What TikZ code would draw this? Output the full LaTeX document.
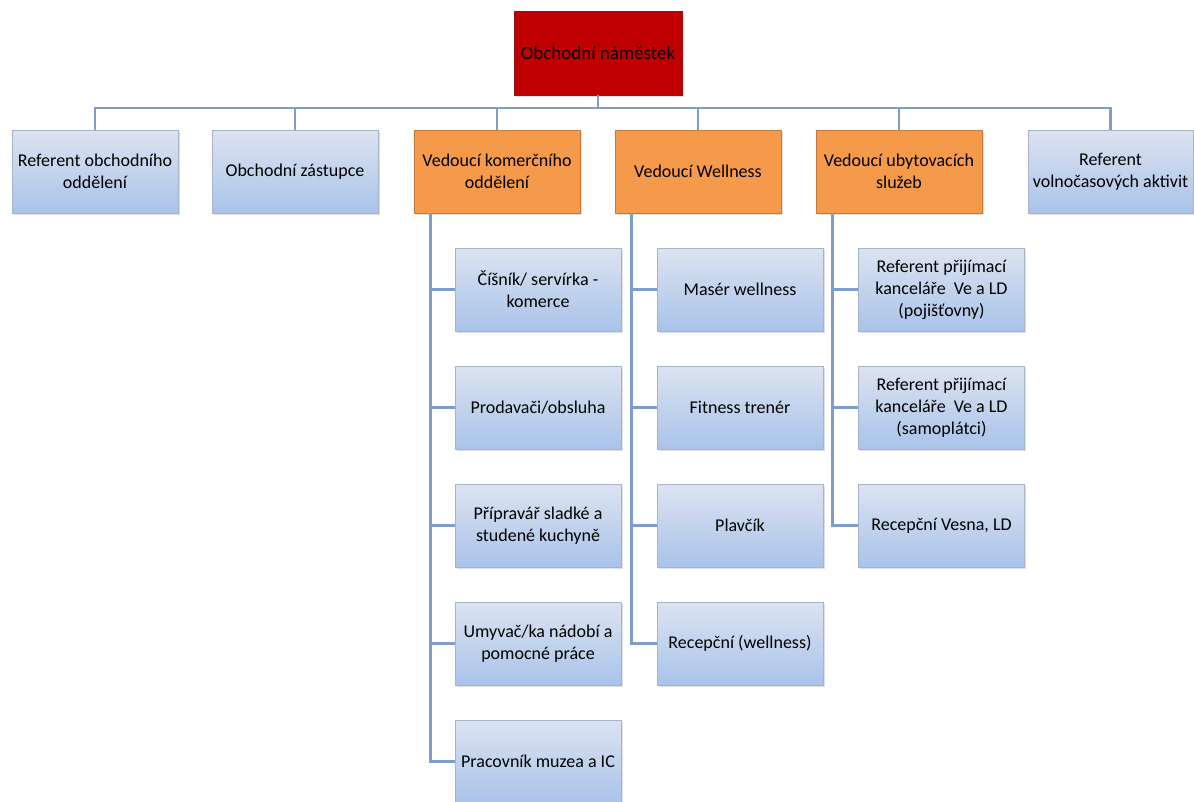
\documentclass[tikz,border=0pt]{standalone}
\usepackage{fontspec}
\setmainfont{Carlito}
\usetikzlibrary{shadows}
\definecolor{conn}{HTML}{7F9DCB}
\definecolor{btop}{HTML}{DCE3F0}
\definecolor{bbot}{HTML}{A9C3EA}
\definecolor{bborder}{HTML}{A6B3C8}
\definecolor{orfill}{HTML}{F59A4A}
\definecolor{orborder}{HTML}{C8763A}
\definecolor{redfill}{HTML}{C00000}
\definecolor{redborder}{HTML}{9A1010}
\tikzset{
  every node/.style={font=\fontsize{18}{22}\selectfont, align=center, inner sep=2pt},
  box/.style={rectangle, minimum width=166pt, minimum height=83pt, line width=0.8pt,
    drop shadow={opacity=0.25, shadow xshift=1.5pt, shadow yshift=-1.5pt}},
  bluebox/.style={box, draw=bborder, top color=btop, bottom color=bbot},
  orbox/.style={box, draw=orborder, fill=orfill},
  redbox/.style={box, draw=redborder, fill=redfill, minimum width=168pt, minimum height=84pt},
  cn/.style={draw=conn, line width=2.8pt}
}
\begin{document}
\begin{tikzpicture}[x=1pt,y=-1pt]
\useasboundingbox (0,0) rectangle (1194,801);
\node[redbox, font=\fontsize{19}{23}\selectfont] (top) at (598,53) {Obchodní náměstek};
% level 1
\node[bluebox] (b1) at (95,171.5) {Referent obchodního\\oddělení};
\node[bluebox] (b2) at (295,171.5) {Obchodní zástupce};
\node[orbox] (b3) at (497,171.5) {Vedoucí komerčního\\oddělení};
\node[orbox] (b4) at (698,171.5) {Vedoucí Wellness};
\node[orbox] (b5) at (899,171.5) {Vedoucí ubytovacích\\služeb};
\node[bluebox, minimum width=165pt] (b6) at (1110.5,171.5) {Referent\\volnočasových aktivit};
% children of b3
\node[bluebox] (c31) at (538,289.5) {Číšník/ servírka -\\komerce};
\node[bluebox] (c32) at (538,407.5) {Prodavači/obsluha};
\node[bluebox] (c33) at (538,525.5) {Přípravář sladké a\\studené kuchyně};
\node[bluebox] (c34) at (538,643.5) {Umyvač/ka nádobí a\\pomocné práce};
\node[bluebox] (c35) at (538,761.5) {Pracovník muzea a IC};
% children of b4
\node[bluebox] (c41) at (740,289.5) {Masér wellness};
\node[bluebox] (c42) at (740,407.5) {Fitness trenér};
\node[bluebox] (c43) at (740,525.5) {Plavčík};
\node[bluebox] (c44) at (740,643.5) {Recepční (wellness)};
% children of b5
\node[bluebox] (c51) at (941.5,289.5) {Referent přijímací\\kanceláře\ \ Ve a LD\\(pojišťovny)};
\node[bluebox] (c52) at (941.5,407.5) {Referent přijímací\\kanceláře\ \ Ve a LD\\(samoplátci)};
\node[bluebox] (c53) at (941.5,525.5) {Recepční Vesna, LD};
% connectors top
\coordinate (bus) at (598,108);
\foreach \b in {b1,b2,b3,b4,b5,b6}{
  \draw[cn] (top.south) -- (bus) -| (\b.north);
}
% connectors children
\foreach \c in {c31,c32,c33,c34,c35}{
  \draw[cn] ([xshift=17pt]b3.south west) |- (\c.west);
}
\foreach \c in {c41,c42,c43,c44}{
  \draw[cn] ([xshift=17pt]b4.south west) |- (\c.west);
}
\foreach \c in {c51,c52,c53}{
  \draw[cn] ([xshift=17pt]b5.south west) |- (\c.west);
}
\end{tikzpicture}
\end{document}
